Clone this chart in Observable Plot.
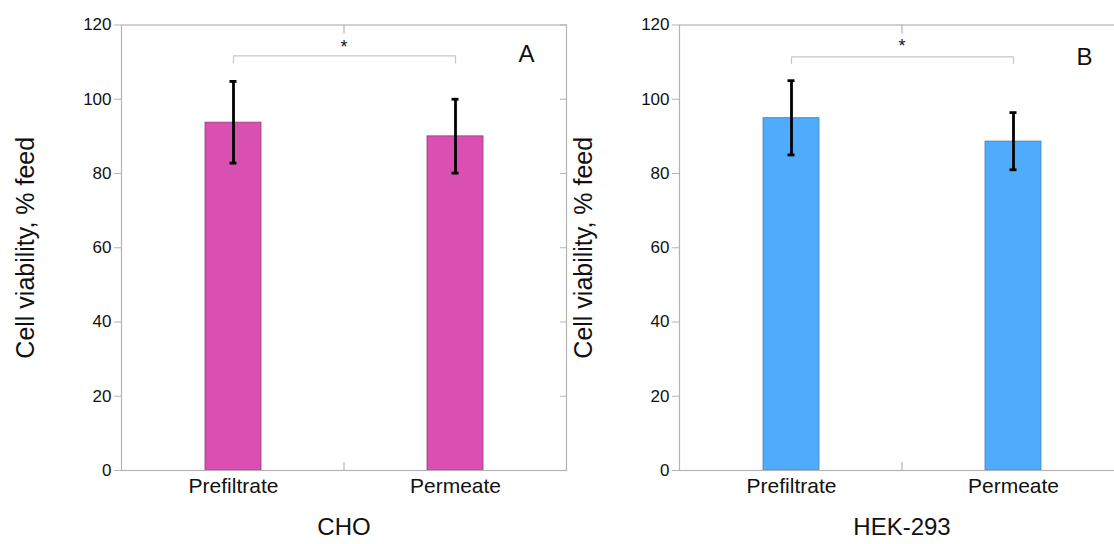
<!DOCTYPE html>
<html>
<head>
<meta charset="utf-8">
<script src="https://cdn.jsdelivr.net/npm/d3@7"></script>
<script src="https://cdn.jsdelivr.net/npm/@observablehq/plot@0.6"></script>
<style>
  html, body { margin: 0; padding: 0; background: #fff; }
  #wrap { position: relative; width: 1114px; height: 544px; overflow: hidden; }
  #wrap > div { position: absolute; top: 0; width: 570px; }
  #pA { left: 0; }
  #pB { left: 558px; }
  svg { overflow: visible; background: transparent !important; max-width: none !important; }
</style>
</head>
<body>
<div id="wrap"><div id="pA"></div><div id="pB"></div></div>
<script>
// ---- data ----
const categories = ["Prefiltrate", "Permeate"];
const choMeans = [93.7, 90.0];
const choErrLow = [82.8, 80.1];
const choErrHigh = [104.8, 100.0];
const hekMeans = [94.9, 88.6];
const hekErrLow = [85.0, 81.0];
const hekErrHigh = [105.0, 96.4];
const yTicks = [0, 20, 40, 60, 80, 100, 120];
const panelTitles = ["CHO", "HEK-293"];
const panelLetters = ["A", "B"];
const bracketLevel = [111.7, 111.4];
const bracketDrop = [109.8, 109.6];
const starLevel = [114.0, 114.2];
const letterLevel = [112.2, 111.2];

const font = "'Liberation Sans', Arial, Helvetica, sans-serif";

function panel(idx, means, lo, hi, fill, stroke, width) {
  const rows = categories.map((c, i) => ({cat: c, mean: means[i], lo: lo[i], hi: hi[i]}));
  const bracket = [
    {cat: categories[0], y: bracketDrop[idx]},
    {cat: categories[0], y: bracketLevel[idx]},
    {cat: categories[1], y: bracketLevel[idx]},
    {cat: categories[1], y: bracketDrop[idx]}
  ];
  const tickShape = {draw(ctx, l) { ctx.moveTo(0, 0); ctx.lineTo(0, -l); }};
  return Plot.plot({
    width: width,
    height: 544,
    marginLeft: 121,
    marginRight: width - 121 - 445,
    marginTop: 24.5,
    marginBottom: 74,
    style: {fontFamily: font, background: "transparent", overflow: "visible", maxWidth: "none"},
    x: {domain: categories, paddingInner: 0.748, paddingOuter: 0.374, label: null},
    y: {domain: [0, 120], ticks: yTicks, label: null},
    marks: [
      Plot.barY(rows, {x: "cat", y: "mean", fill: fill, stroke: stroke, strokeWidth: 0.8}),
      Plot.frame({stroke: "#b3b3b3", strokeWidth: 1.2}),
      Plot.axisY({anchor: "left", ticks: yTicks, tickSize: 7, tickPadding: 3, fontSize: 17, stroke: "#b3b3b3", fill: "#111", label: null}),
      Plot.axisY({anchor: "right", ticks: yTicks, tickSize: 7, dx: -7, tickFormat: () => "", stroke: "#b3b3b3", label: null}),
      Plot.axisX({anchor: "bottom", tickSize: 0, tickPadding: 8, fontSize: 21, fill: "#111", label: null}),
      Plot.vector([0], {frameAnchor: "top", length: 8, rotate: 180, anchor: "start", shape: tickShape, stroke: "#b3b3b3", strokeWidth: 1.2}),
      Plot.vector([0], {frameAnchor: "bottom", length: 8, rotate: 0, anchor: "start", shape: tickShape, stroke: "#b3b3b3", strokeWidth: 1.2}),
      Plot.ruleX(rows, {x: "cat", y1: "lo", y2: "hi", stroke: "#000", strokeWidth: 2.8}),
      Plot.tickY(rows, {x: "cat", y: "lo", stroke: "#000", strokeWidth: 2.8, inset: 24.5}),
      Plot.tickY(rows, {x: "cat", y: "hi", stroke: "#000", strokeWidth: 2.8, inset: 24.5}),
      Plot.line(bracket, {x: "cat", y: "y", stroke: "#c8c8c8", strokeWidth: 1.2, curve: "linear"}),
      Plot.text([starLevel[idx]], {y: d => d, text: () => "*", fontSize: 18, fill: "#111"}),
      Plot.text([letterLevel[idx]], {y: d => d, frameAnchor: "right", textAnchor: "end", dx: -32, text: () => panelLetters[idx], fontSize: 24, fill: "#111"}),
      Plot.text([0], {frameAnchor: "bottom", dy: 64, text: () => panelTitles[idx], fontSize: 24, fill: "#111"}),
      Plot.text([0], {frameAnchor: "left", textAnchor: "middle", dx: -96, rotate: -90, text: () => "Cell viability, % feed", fontSize: 25, fill: "#111"})
    ]
  });
}

document.getElementById("pA").appendChild(panel(0, choMeans, choErrLow, choErrHigh, "#d94fb2", "#8f3a7a", 570));
document.getElementById("pB").appendChild(panel(1, hekMeans, hekErrLow, hekErrHigh, "#4fabfb", "#4a7fb0", 570));
</script>
</body>
</html>
